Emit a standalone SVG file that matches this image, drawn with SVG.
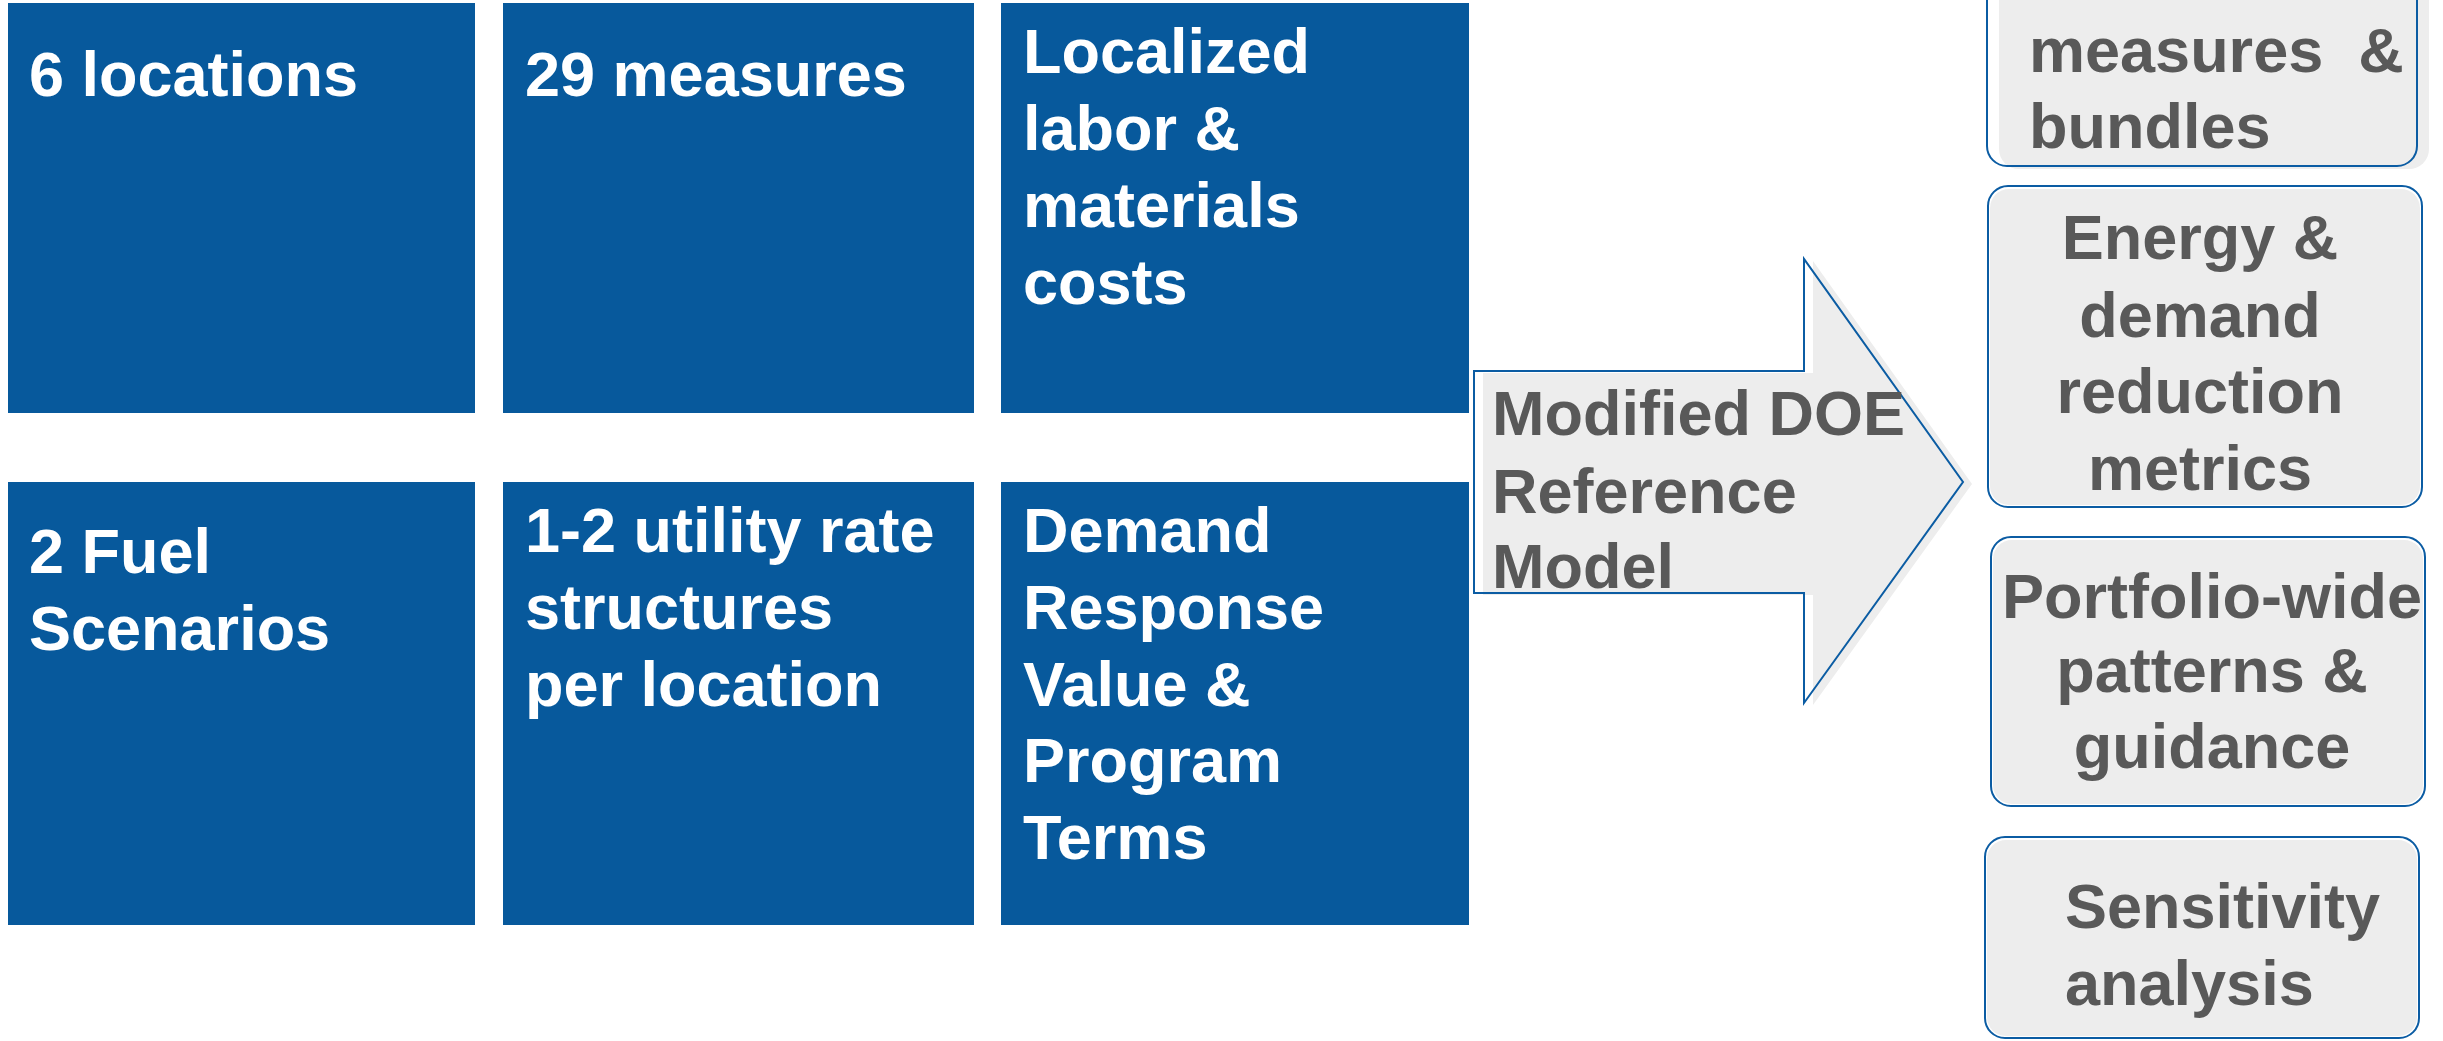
<svg xmlns="http://www.w3.org/2000/svg" width="2443" height="1041" viewBox="0 0 2443 1041">
  <style>
    .blk { fill: #07599C; }
    .txt { font-family: "Liberation Sans", Arial, sans-serif; font-weight: bold; font-size: 63px; }
    .wt { fill: #FFFFFF; }
    .gt { fill: #595959; }
    .gfill { fill: #EDEDED; }
    .outl { fill: none; stroke: #0B5CA3; stroke-width: 2; }
  </style>
  <rect width="2443" height="1041" fill="#FFFFFF"/>

  <!-- input tiles: top row -->
  <g id="locations">
    <rect class="blk" x="8" y="3" width="467" height="410"/>
    <text class="txt wt" x="29" y="96">6 locations</text>
  </g>
  <g id="measures">
    <rect class="blk" x="503" y="3" width="471" height="410"/>
    <text class="txt wt" x="525" y="96">29 measures</text>
  </g>
  <g id="costs">
    <rect class="blk" x="1001" y="3" width="468" height="410"/>
    <text class="txt wt" x="1023" y="73">Localized</text>
    <text class="txt wt" x="1023" y="150">labor &amp;</text>
    <text class="txt wt" x="1023" y="227">materials</text>
    <text class="txt wt" x="1023" y="304">costs</text>
  </g>

  <!-- input tiles: bottom row -->
  <g id="fuel">
    <rect class="blk" x="8" y="482" width="467" height="443"/>
    <text class="txt wt" x="29" y="573">2 Fuel</text>
    <text class="txt wt" x="29" y="650">Scenarios</text>
  </g>
  <g id="rates">
    <rect class="blk" x="503" y="482" width="471" height="443"/>
    <text class="txt wt" x="525" y="552">1-2 utility rate</text>
    <text class="txt wt" x="525" y="629">structures</text>
    <text class="txt wt" x="525" y="706">per location</text>
  </g>
  <g id="demand-response">
    <rect class="blk" x="1001" y="482" width="468" height="443"/>
    <text class="txt wt" x="1023" y="552">Demand</text>
    <text class="txt wt" x="1023" y="629">Response</text>
    <text class="txt wt" x="1023" y="706">Value &amp;</text>
    <text class="txt wt" x="1023" y="782">Program</text>
    <text class="txt wt" x="1023" y="859">Terms</text>
  </g>

  <!-- block arrow: model -->
  <g id="doe-model">
    <path class="gfill" d="M1483,373 H1813 V261 L1972,484 L1813,705 V595 H1483 Z"/>
    <path class="outl" d="M1474,371 H1804 V259 L1963,482 L1804,703 V593 H1474 Z"/>
    <text class="txt gt" x="1492" y="435">Modified DOE</text>
    <text class="txt gt" x="1492" y="513">Reference</text>
    <text class="txt gt" x="1492" y="588">Model</text>
  </g>

  <!-- output cards -->
  <g id="bundles">
    <rect class="gfill" x="1999" y="-37" width="430" height="206" rx="20"/>
    <rect class="outl" x="1987" y="-40" width="430" height="206" rx="20"/>
    <text class="txt gt" x="2029" y="72">measures&#160;&#160;&amp;</text>
    <text class="txt gt" x="2029" y="148">bundles</text>
  </g>
  <g id="metrics">
    <rect class="gfill" x="1990" y="189" width="430" height="316" rx="19"/>
    <rect class="outl" x="1988" y="186" width="434" height="321" rx="20"/>
    <text class="txt gt" x="2200" y="259" text-anchor="middle">Energy &amp;</text>
    <text class="txt gt" x="2200" y="337" text-anchor="middle">demand</text>
    <text class="txt gt" x="2200" y="413" text-anchor="middle">reduction</text>
    <text class="txt gt" x="2200" y="490" text-anchor="middle">metrics</text>
  </g>
  <g id="patterns">
    <rect class="gfill" x="1993" y="540" width="430" height="264" rx="19"/>
    <rect class="outl" x="1991" y="537" width="434" height="269" rx="20"/>
    <text class="txt gt" x="2212" y="618" text-anchor="middle" textLength="420" lengthAdjust="spacing">Portfolio-wide</text>
    <text class="txt gt" x="2212" y="692" text-anchor="middle">patterns &amp;</text>
    <text class="txt gt" x="2212" y="768" text-anchor="middle">guidance</text>
  </g>
  <g id="sensitivity">
    <rect class="gfill" x="1987" y="840" width="430" height="196" rx="19"/>
    <rect class="outl" x="1985" y="837" width="434" height="201" rx="20"/>
    <text class="txt gt" x="2065" y="928">Sensitivity</text>
    <text class="txt gt" x="2065" y="1005">analysis</text>
  </g>
</svg>
